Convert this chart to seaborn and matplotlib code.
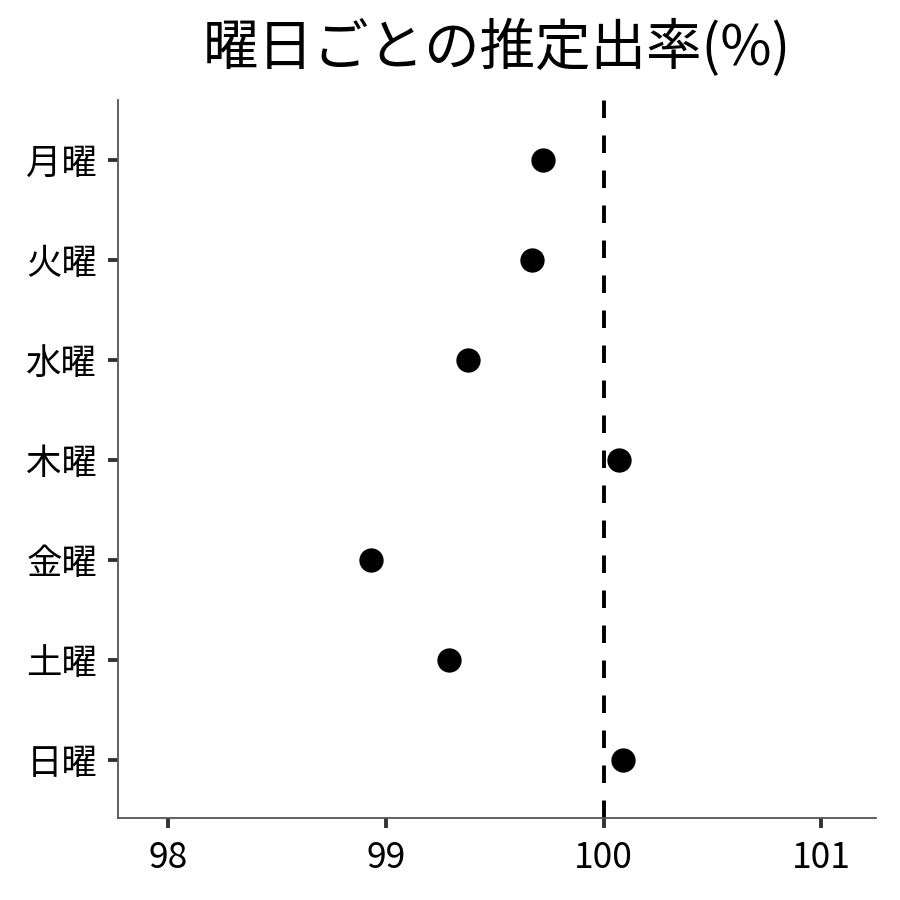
import numpy as np
import pandas as pd
import matplotlib
matplotlib.use("Agg")
import matplotlib.pyplot as plt
import seaborn as sns

days = ['月曜', '火曜', '水曜', '木曜', '金曜', '土曜', '日曜']
rates = [99.72, 99.67, 99.38, 100.07, 98.93, 99.29, 100.09]
xticks = [98, 99, 100, 101]

sns.set_style("white")
plt.rcParams['font.family'] = ['Noto Sans CJK JP', 'DejaVu Sans']

df = pd.DataFrame({'day': days, 'rate': rates})

fig = plt.figure(figsize=(9, 9), dpi=100)
ax = fig.add_axes([0.131, 0.091, 0.842, 0.798])

ax.axvline(100, color='black', linewidth=2.8, linestyle=(0, (4.5, 4.5)), zorder=1)
sns.stripplot(data=df, x='rate', y='day', order=days, orient='h', jitter=False,
              color='black', size=17.5, linewidth=0, ax=ax, zorder=3)

ax.set_xlim(97.77, 101.25)
ax.set_ylim(6.58, -0.6)
ax.set_xticks(xticks)
ax.set_xticklabels([str(t) for t in xticks])
ax.set_xlabel('')
ax.set_ylabel('')
ax.set_title('曜日ごとの推定出率(%)', fontsize=40, pad=25, color='black')

for s in ['top', 'right']:
    ax.spines[s].set_visible(False)
for s in ['left', 'bottom']:
    ax.spines[s].set_color('#555555')
    ax.spines[s].set_linewidth(1.3)

ax.tick_params(axis='both', which='major', length=7, width=2.8, color='#333333',
               labelsize=25.5, labelcolor='black', direction='out')
ax.tick_params(axis='y', pad=8)
ax.tick_params(axis='x', pad=9)
ax.tick_params(left=True, bottom=True)

fig.savefig('out.png', dpi=100)
